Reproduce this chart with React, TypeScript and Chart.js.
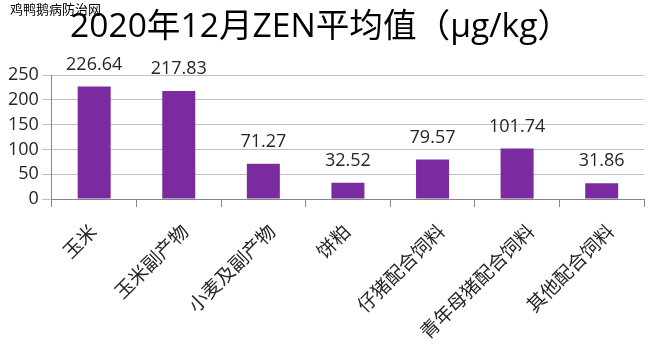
import React, { useEffect, useRef } from 'react';
import { Chart, registerables } from 'chart.js';

Chart.register(...registerables);

const categories = ['玉米', '玉米副产物', '小麦及副产物', '饼粕', '仔猪配合饲料', '青年母猪配合饲料', '其他配合饲料'];
const values = [226.64, 217.83, 71.27, 32.52, 79.57, 101.74, 31.86];
const yTicks = [0, 50, 100, 150, 200, 250];
const titleText = '2020年12月ZEN平均值（μg/kg）';
const watermarkText = '鸡鸭鹅病防治网';

const FONT = '"Open Sans", "Noto Sans CJK SC", sans-serif';
const CJK = '"Noto Sans CJK SC", sans-serif';

const overlayPlugin = {
  id: 'overlay',
  afterDraw(chart: any) {
    const ctx = chart.ctx;
    const xScale = chart.scales.x;
    ctx.save();
    // data labels
    const meta = chart.getDatasetMeta(0);
    ctx.fillStyle = '#262626';
    ctx.font = `18px ${FONT}`;
    ctx.textAlign = 'center';
    ctx.textBaseline = 'alphabetic';
    meta.data.forEach((el: any, i: number) => {
      ctx.fillText(values[i].toFixed(2), el.x, el.y - 17);
    });
    // rotated category labels (Excel-style anchoring)
    ctx.font = `19px ${CJK}`;
    ctx.fillStyle = '#262626';
    categories.forEach((c, i) => {
      const cx = xScale.getPixelForValue(i);
      const L = ctx.measureText(c).width;
      const ax = cx + 0.13 * L - 13;
      const ay = xScale.top + 22;
      ctx.save();
      ctx.translate(ax, ay);
      ctx.rotate(-Math.PI / 4);
      ctx.textAlign = 'right';
      ctx.textBaseline = 'top';
      ctx.fillText(c, 0, 0);
      ctx.restore();
    });
    // title
    ctx.save();
    ctx.fillStyle = '#000';
    ctx.font = `33px ${FONT}`;
    ctx.textAlign = 'left';
    ctx.textBaseline = 'alphabetic';
    const w = ctx.measureText(titleText).width;
    ctx.translate(70, 37);
    ctx.scale(501 / w, 1);
    ctx.fillText(titleText, 0, 0);
    ctx.restore();
    // watermark
    ctx.fillStyle = '#000';
    ctx.font = `13px ${CJK}`;
    ctx.textAlign = 'left';
    ctx.textBaseline = 'top';
    ctx.fillText(watermarkText, 10, 3);
    ctx.restore();
  },
};

export default function App() {
  const ref = useRef<HTMLCanvasElement>(null);
  useEffect(() => {
    document.body.style.margin = '0';
    const chart = new Chart(ref.current!, {
      type: 'bar',
      data: {
        labels: categories,
        datasets: [
          {
            data: values,
            backgroundColor: '#7B2AA0',
            categoryPercentage: 1,
            barPercentage: 0.39,
          },
        ],
      },
      options: {
        animation: false,
        responsive: true,
        maintainAspectRatio: false,
        layout: { padding: { left: 5, right: 12, top: 75, bottom: 144 } },
        plugins: { legend: { display: false }, tooltip: { enabled: false }, title: { display: false } },
        scales: {
          x: {
            grid: { display: true, drawOnChartArea: false, drawTicks: true, tickLength: 8, color: '#868686', offset: true },
            border: { color: '#868686' },
            ticks: { display: false },
          },
          y: {
            min: 0,
            max: 250,
            afterBuildTicks(scale: any) {
              scale.ticks = yTicks.map((v) => ({ value: v }));
            },
            grid: { color: '#c0c0c0', tickLength: 10 },
            border: { color: '#868686' },
            ticks: { color: '#262626', padding: 3, font: { size: 18, family: FONT } },
          },
        },
      },
      plugins: [overlayPlugin],
    });
    return () => chart.destroy();
  }, []);
  return (
    <div style={{ width: 656, height: 351, position: 'relative' }}>
      <canvas ref={ref} />
    </div>
  );
}
